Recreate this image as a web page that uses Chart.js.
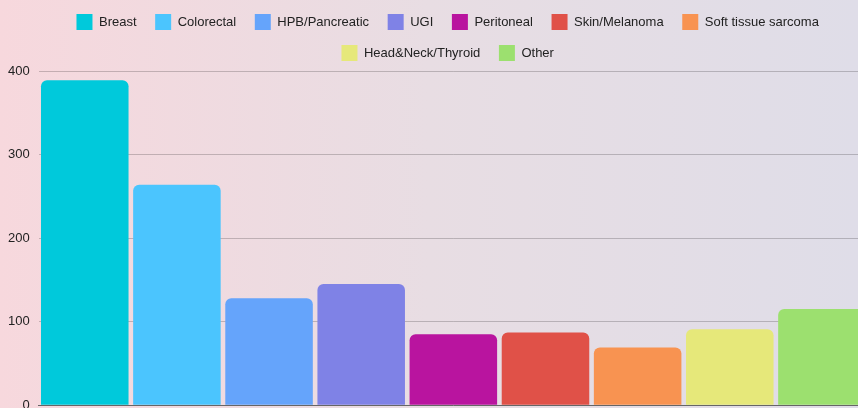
<!DOCTYPE html>
<html>
<head>
<meta charset="utf-8">
<script src="https://cdn.jsdelivr.net/npm/chart.js@4"></script>
<style>
  html, body { margin: 0; padding: 0; overflow: hidden; }
  body {
    width: 858px; height: 408px;
    background: linear-gradient(90deg, #f7d8dd 0%, #e8dde3 50%, #dfdde8 100%);
    position: relative;
  }
  #wrap { position: absolute; left: 0; top: -2px; width: 900px; height: 424px; }
</style>
</head>
<body>
<div id="wrap"><canvas id="chart"></canvas></div>
<script>
// categories, their counts and bar colours
const categories = ['Breast', 'Colorectal', 'HPB/Pancreatic', 'UGI', 'Peritoneal',
  'Skin/Melanoma', 'Soft tissue sarcoma', 'Head&Neck/Thyroid', 'Other'];
const counts = [389, 264, 128, 145, 85, 87, 69, 91, 115];
const colors = ['#00c9db', '#4bc5fe', '#65a4fb', '#7f82e6', '#b9149f',
  '#e05148', '#f89351', '#e6e87a', '#9ce06f'];
const yTicks = [0, 100, 200, 300, 400];

const datasets = categories.map(function (name, i) {
    return {
        label: name,
        data: [counts[i]],
        backgroundColor: colors[i],
        borderRadius: 6,
        borderSkipped: 'start'
    };
});

Chart.defaults.font.family = '"Liberation Sans", Arial, Helvetica, sans-serif';
Chart.defaults.font.size = 13;
Chart.defaults.color = '#333';

const defaultLabels = Chart.defaults.plugins.legend.labels.generateLabels;

new Chart(document.getElementById('chart').getContext('2d'), {
    type: 'bar',
    data: { labels: [''], datasets: datasets },
    options: {
        responsive: true,
        maintainAspectRatio: false,
        animation: false,
        layout: { padding: { left: -1, right: 0, top: 1, bottom: 2 } },
        datasets: { bar: { categoryPercentage: 1, barPercentage: 0.95 } },
        plugins: {
            legend: {
                position: 'top',
                labels: {
                    boxWidth: 16, boxHeight: 16, padding: 15, color: '#222',
                    // a bit of extra room after each label, like the original
                    generateLabels: function (chart) {
                        return defaultLabels(chart).map(function (item) {
                            item.text = item.text + ' ';
                            return item;
                        });
                    }
                }
            },
            tooltip: { enabled: false }
        },
        scales: {
            x: {
                ticks: { display: false },
                grid: { display: false },
                border: { display: true, color: '#666' },
                // keep some room on the right of the plot, legend stays centred
                afterFit: function (scale) { scale.paddingRight = 32; }
            },
            y: {
                min: yTicks[0],
                max: yTicks[yTicks.length - 1],
                ticks: { stepSize: 100, padding: 9, color: '#222' },
                grid: { color: 'rgba(0,0,0,0.2)', drawTicks: false },
                border: { display: false }
            }
        }
    }
});
</script>
</body>
</html>
